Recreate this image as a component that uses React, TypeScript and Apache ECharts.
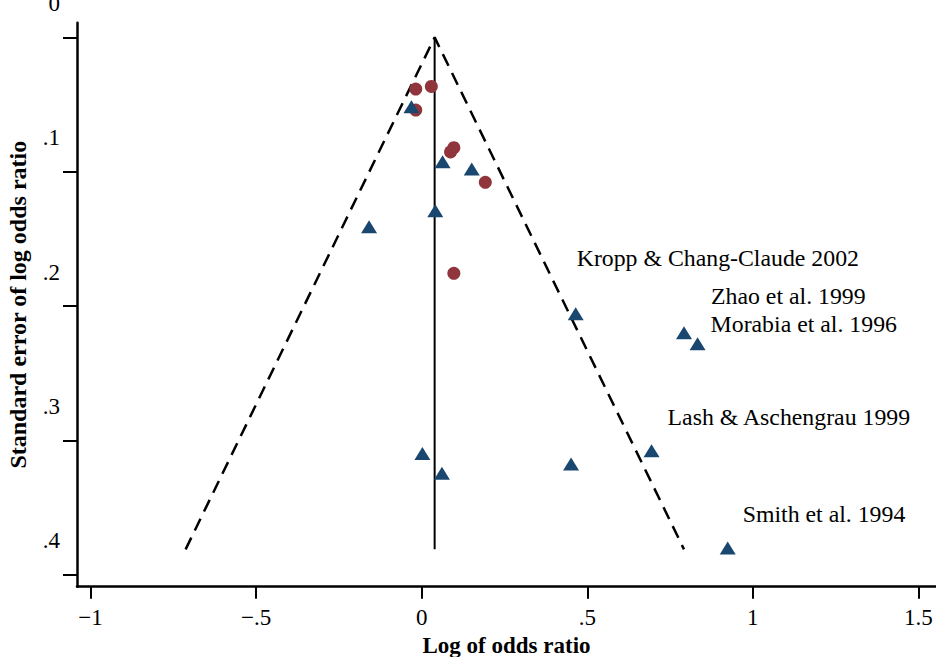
import React, { useEffect, useRef } from "react";
import * as echarts from "echarts";

// Studies shown as circles (maroon)
const circleX = [-0.018, 0.029, -0.018, 0.097, 0.087, 0.192, 0.097];
const circleSE = [0.0385, 0.0365, 0.0541, 0.0821, 0.0853, 0.1079, 0.1756];

// Studies shown as triangles (navy)
const triName = ["", "", "", "", "", "Kropp & Chang-Claude 2002", "Zhao et al. 1999", "Morabia et al. 1996", "Lash & Aschengrau 1999", "", "", "", "Smith et al. 1994"];
const triX = [-0.031, 0.063, 0.151, 0.041, -0.159, 0.465, 0.792, 0.833, 0.694, 0.002, 0.451, 0.061, 0.924];
const triSE = [0.0516, 0.0926, 0.098, 0.129, 0.141, 0.2056, 0.2198, 0.228, 0.3076, 0.3097, 0.3175, 0.3244, 0.380];

// Pseudo 95% confidence limits (funnel) and pooled estimate
const funnelX = [-0.713, 0.039, 0.792];
const funnelSE = [0.381, 0, 0.381];
const pooledX = [0.039, 0.039];
const pooledSE = [0, 0.381];

const xTicks = [-1, -0.5, 0, 0.5, 1, 1.5];
const yTicks = [0, 0.1, 0.2, 0.3, 0.4];

// label offsets (layout only)
const labelOffsets: Record<string, [number, number]> = {
  "Kropp & Chang-Claude 2002": [1, -56],
  "Zhao et al. 1999": [27, -37],
  "Morabia et al. 1996": [13, -20],
  "Lash & Aschengrau 1999": [16, -34],
  "Smith et al. 1994": [15, -34],
};

const FONT = "Liberation Serif";

function fmt(v: number): string {
  if (v === 0) return "0";
  const s = String(Math.round(v * 100) / 100);
  return s.replace(/^-0\./, "\u2212.").replace(/^0\./, ".").replace(/^-/, "\u2212");
}

export default function App() {
  const ref = useRef<HTMLDivElement>(null);
  useEffect(() => {
    if (!ref.current) return;
    const chart = echarts.init(ref.current, null, { renderer: "svg" });
    const triData = triX.map((x, i) => {
      const name = triName[i];
      const item: any = { value: [x, triSE[i]], name };
      if (name) {
        item.label = {
          show: true,
          formatter: name,
          position: "inside",
          align: "left",
          verticalAlign: "middle",
          offset: labelOffsets[name],
          color: "#000",
          fontFamily: FONT,
          fontSize: 23.8,
        };
      }
      return item;
    });
    chart.setOption({
      animation: false,
      backgroundColor: "#fff",
      grid: { left: 77, right: 0, top: 22.7, bottom: 70.3, containLabel: false, outerBoundsMode: "none" },
      xAxis: {
        type: "value",
        min: -1.041,
        max: 1.553,
        name: "Log of odds ratio",
        nameLocation: "middle",
        nameGap: 39,
        nameTextStyle: { fontFamily: FONT, fontSize: 23, fontWeight: "bold", color: "#000", lineHeight: 23 },
        axisLine: { onZero: false, lineStyle: { color: "#000", width: 2.5 } },
        axisTick: { show: true, length: 12, customValues: xTicks, lineStyle: { color: "#000", width: 2 } },
        axisLabel: {
          customValues: xTicks,
          formatter: (v: number) => fmt(v),
          fontFamily: FONT,
          fontSize: 23,
          color: "#000",
          margin: 19,
        },
        splitLine: { show: false },
      },
      yAxis: {
        type: "value",
        inverse: true,
        min: -0.0109,
        max: 0.4088,
        name: "Standard error of log odds ratio",
        nameLocation: "middle",
        nameGap: 47,
        nameTextStyle: { fontFamily: FONT, fontSize: 24, fontWeight: "bold", color: "#000" },
        axisLine: { onZero: false, lineStyle: { color: "#000", width: 2.5 } },
        axisTick: { show: true, length: 14, customValues: yTicks, lineStyle: { color: "#000", width: 2 } },
        axisLabel: {
          customValues: yTicks,
          formatter: (v: number) => fmt(v),
          fontFamily: FONT,
          fontSize: 23,
          color: "#000",
          margin: 17,
          verticalAlign: "bottom",
          lineHeight: 22,
          padding: [0, 0, 23, 0],
        },
        splitLine: { show: false },
      },
      series: [
        {
          type: "line",
          data: funnelX.map((x, i) => [x, funnelSE[i]]),
          symbol: "none",
          lineStyle: { color: "#000", width: 2.5, type: [13, 8] },
          silent: true,
          z: 1,
        },
        {
          type: "line",
          data: pooledX.map((x, i) => [x, pooledSE[i]]),
          symbol: "none",
          lineStyle: { color: "#000", width: 2 },
          silent: true,
          z: 1,
        },
        {
          type: "scatter",
          data: circleX.map((x, i) => [x, circleSE[i]]),
          symbol: "circle",
          symbolSize: 13,
          itemStyle: { color: "#90353B", opacity: 1 },
          z: 3,
        },
        {
          type: "scatter",
          data: triData,
          symbol: "triangle",
          symbolSize: [16, 13],
          itemStyle: { color: "#1A476F", opacity: 1 },
          label: { show: false },
          z: 3,
        },
      ],
    });
    return () => chart.dispose();
  }, []);
  return (
    <div
      ref={ref}
      style={{ position: "fixed", left: 0, top: 0, width: 936, height: 657, background: "#fff" }}
    />
  );
}
